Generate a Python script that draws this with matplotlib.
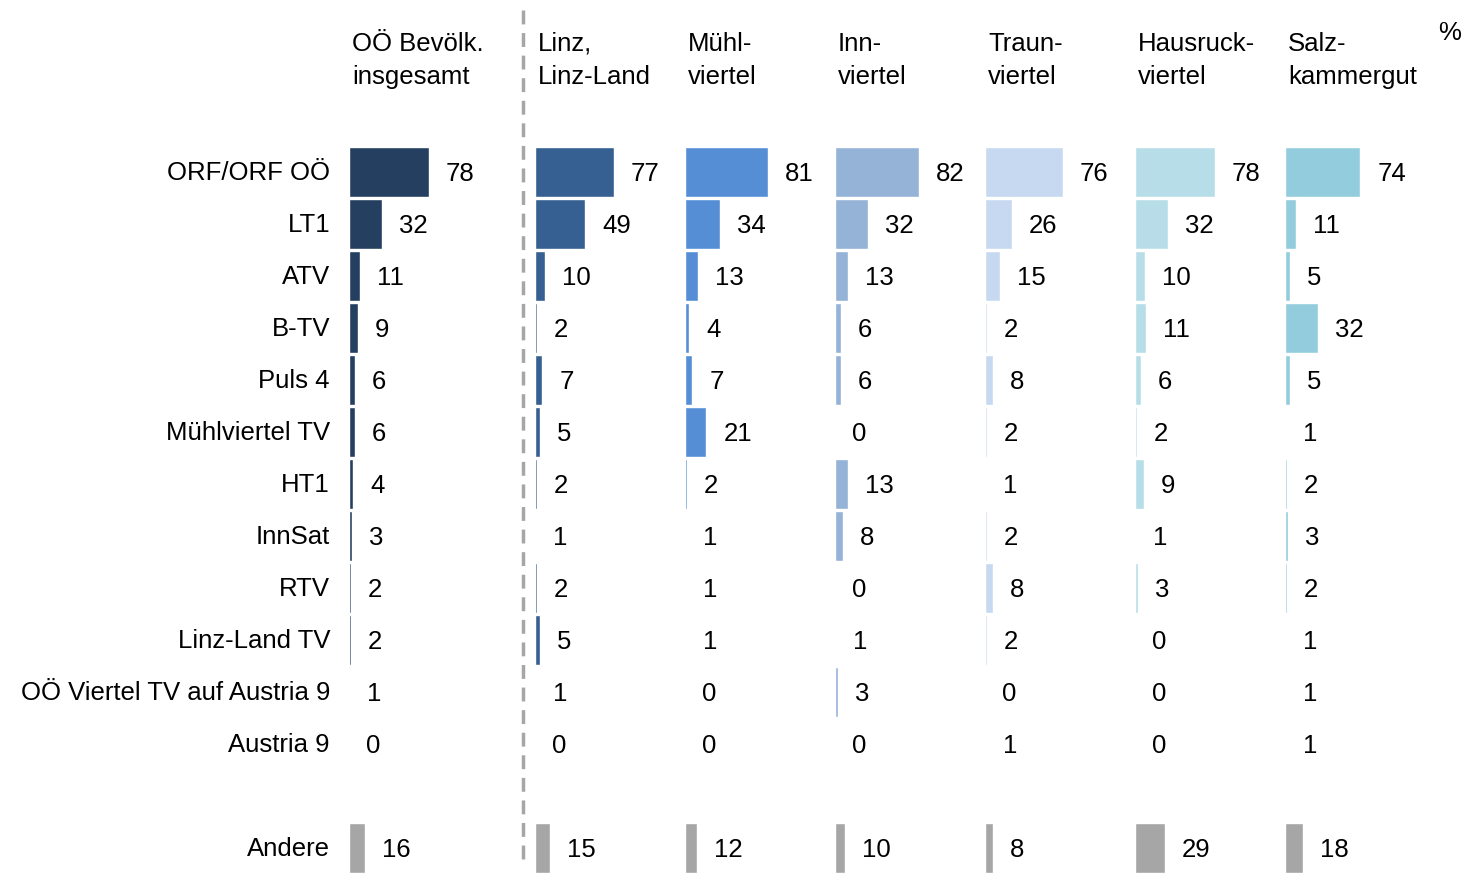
import numpy as np
import matplotlib.pyplot as plt
from matplotlib.lines import Line2D

plt.rcParams['font.family'] = ['Liberation Sans', 'DejaVu Sans']

# Daten
kategorien = ["ORF/ORF OÖ", "LT1", "ATV", "B-TV", "Puls 4", "Mühlviertel TV",
              "HT1", "InnSat", "RTV", "Linz-Land TV",
              "OÖ Viertel TV auf Austria 9", "Austria 9"]

kopf = [("OÖ Bevölk.", "insgesamt"), ("Linz,", "Linz-Land"), ("Mühl-", "viertel"),
        ("Inn-", "viertel"), ("Traun-", "viertel"), ("Hausruck-", "viertel"),
        ("Salz-", "kammergut")]

oo_gesamt = [78, 32, 11, 9, 6, 6, 4, 3, 2, 2, 1, 0]
linz = [77, 49, 10, 2, 7, 5, 2, 1, 2, 5, 1, 0]
muehlviertel = [81, 34, 13, 4, 7, 21, 2, 1, 1, 1, 0, 0]
innviertel = [82, 32, 13, 6, 6, 0, 13, 8, 0, 1, 3, 0]
traunviertel = [76, 26, 15, 2, 8, 2, 1, 2, 8, 2, 0, 1]
hausruckviertel = [78, 32, 10, 11, 6, 2, 9, 1, 3, 0, 0, 0]
salzkammergut = [74, 11, 5, 32, 5, 1, 2, 3, 2, 1, 1, 1]

andere = [16, 15, 12, 10, 8, 29, 18]

spalten = [oo_gesamt, linz, muehlviertel, innviertel, traunviertel,
           hausruckviertel, salzkammergut]
farben = ["#243F60", "#366092", "#558ED5", "#95B3D7", "#C6D9F1", "#B7DEE8", "#93CDDD"]
grau = "#A6A6A6"

# Layout (Pixel)
W, H = 1466, 875
fig = plt.figure(figsize=(W / 100, H / 100), dpi=100)

x_start = [350, 536, 686, 836, 986, 1136, 1286]
px_pro_einheit = 1.02
ax_breite = 140
y_oben, y_unten = 140, 880
zeile0, zeilen_abstand = 172, 52
fs = 18.5

pos = np.arange(len(kategorien))
pos_andere = len(kategorien) + 1
ymin = (y_oben - zeile0) / zeilen_abstand
ymax = (y_unten - zeile0) / zeilen_abstand
dy = 2 / zeilen_abstand

for i, (werte, farbe) in enumerate(zip(spalten, farben)):
    ax = fig.add_axes([(x_start[i] - 1) / W, 1 - y_unten / H, ax_breite / W, (y_unten - y_oben) / H])
    ax.barh(pos, werte, height=0.97, color=farbe, edgecolor="white", linewidth=1.0)
    ax.barh([pos_andere], [andere[i]], height=0.97, color=grau, edgecolor="white", linewidth=1.0)
    gap = 17 / px_pro_einheit
    for p, v in zip(pos, werte):
        ax.text(v + gap, p + dy, str(v), va="center", ha="left", fontsize=fs)
    ax.text(andere[i] + gap, pos_andere + dy, str(andere[i]), va="center", ha="left", fontsize=fs)
    ax.set_xlim(0, ax_breite / px_pro_einheit)
    ax.set_ylim(ymax, ymin)
    ax.axis("off")

    # Kopfzeile
    fig.text((x_start[i] + 2) / W, 1 - 44 / H, kopf[i][0], fontsize=fs, va="center", ha="left")
    fig.text((x_start[i] + 2) / W, 1 - 77 / H, kopf[i][1], fontsize=fs, va="center", ha="left")

# Kategorien
for p, k in zip(pos, kategorien):
    fig.text(330 / W, 1 - (zeile0 + 1 + p * zeilen_abstand) / H, k, fontsize=fs, va="center", ha="right")
fig.text(330 / W, 1 - (zeile0 + 1 + pos_andere * zeilen_abstand) / H, "Andere",
         fontsize=fs, va="center", ha="right")

fig.text(1450 / W, 1 - 33 / H, "%", fontsize=fs, va="center", ha="center")

# gestrichelte Trennlinie
fig.add_artist(Line2D([523 / W, 523 / W], [1 - 10 / H, 1 - 865 / H], transform=fig.transFigure,
                      color=grau, linewidth=2.5, linestyle=(0, (4, 2.5))))

fig.savefig("out.png", dpi=100)
